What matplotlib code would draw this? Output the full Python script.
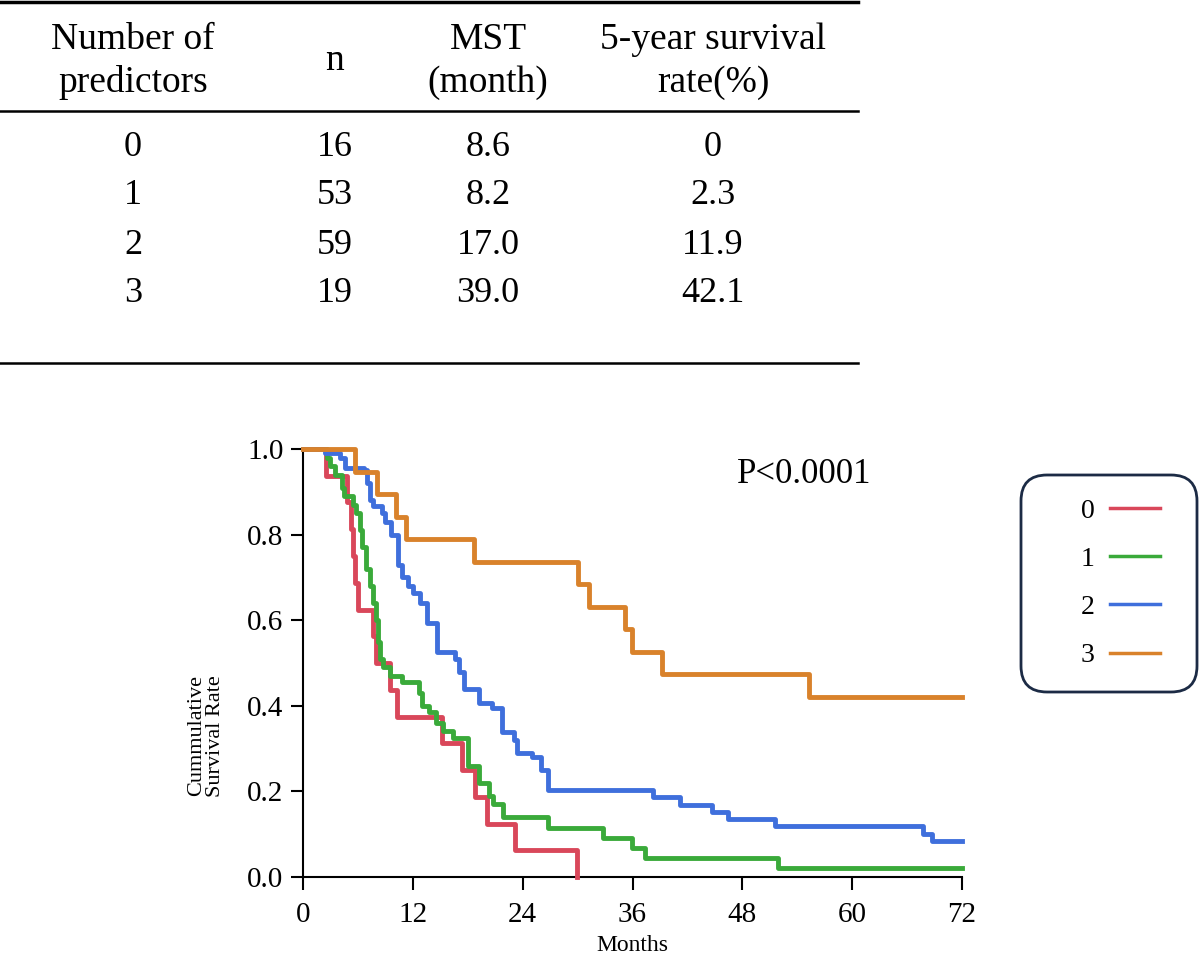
import matplotlib
matplotlib.use("Agg")
import matplotlib.pyplot as plt
from matplotlib.patches import FancyBboxPatch

plt.rcParams['font.family'] = ['Liberation Serif', 'DejaVu Serif']

# table data
tab_header = ["Number of\npredictors", "n", "MST\n(month)", "5-year survival\nrate(%)"]
tab_groups = ["0", "1", "2", "3"]
tab_n = ["16", "53", "59", "19"]
tab_mst = ["8.6", "8.2", "17.0", "39.0"]
tab_5yr = ["0", "2.3", "11.9", "42.1"]

# Kaplan-Meier curves (months, survival)
t0 = [0, 2.5, 4.8, 5.2, 5.5, 5.7, 6.0, 7.7, 8.0, 9.5, 10.3, 15.2, 17.4, 18.8, 20.1, 23.2, 29.9]
s0 = [1.0, 0.9375, 0.875, 0.8125, 0.75, 0.6875, 0.625, 0.5625, 0.5, 0.4375, 0.375, 0.3125, 0.25, 0.1875, 0.125, 0.0625, 0.0]

t1 = [0, 2.6, 3.0, 3.5, 4.3, 4.5, 5.5, 5.8, 6.2, 6.5, 6.9, 7.3, 7.6, 8.0, 8.2, 8.4, 8.7, 9.5,
      10.8, 12.7, 13.0, 13.8, 14.5, 15.3, 16.4, 18.0, 19.2, 20.3, 20.8, 21.8, 26.8, 32.8, 35.9,
      37.4, 51.9, 72]
s1 = [1.0, 0.98, 0.96, 0.94, 0.91, 0.89, 0.87, 0.85, 0.81, 0.77, 0.72, 0.68, 0.64, 0.60, 0.55,
      0.51, 0.49, 0.47, 0.455, 0.43, 0.40, 0.385, 0.36, 0.34, 0.325, 0.26, 0.22, 0.19, 0.17, 0.14,
      0.114, 0.091, 0.068, 0.044, 0.021, 0.021]

t2 = [0, 2.4, 4.0, 4.6, 6.7, 7.0, 7.3, 7.6, 8.6, 9.0, 9.6, 10.4, 10.8, 11.5, 12.0, 12.8, 13.5,
      14.6, 16.6, 17.0, 17.6, 19.2, 20.6, 21.7, 23.1, 23.4, 25.0, 26.0, 26.8, 38.2, 41.2, 44.7,
      46.4, 51.6, 67.7, 68.7, 72]
s2 = [1.0, 0.99, 0.98, 0.956, 0.95, 0.92, 0.88, 0.866, 0.85, 0.83, 0.80, 0.73, 0.70, 0.68, 0.664,
      0.64, 0.593, 0.525, 0.51, 0.48, 0.44, 0.407, 0.395, 0.339, 0.32, 0.29, 0.28, 0.25, 0.203,
      0.186, 0.169, 0.152, 0.136, 0.119, 0.10, 0.085, 0.085]

t3 = [0, 5.7, 8.1, 10.2, 11.3, 18.7, 30.0, 31.2, 35.2, 35.9, 39.2, 55.3, 72]
s3 = [1.0, 0.947, 0.895, 0.842, 0.789, 0.737, 0.684, 0.632, 0.579, 0.526, 0.474, 0.421, 0.421]

curve_labels = ["0", "1", "2", "3"]
curve_colors = ['#d9475a', '#3aaa3a', '#3f6fdc', '#d9822b']

fig = plt.figure(figsize=(12, 9.6), dpi=100)

# overlay in pixel units for the table and the legend box
ov = fig.add_axes([0, 0, 1, 1])
ov.set_xlim(0, 1200)
ov.set_ylim(960, 0)
ov.axis('off')

# table rules
ov.plot([0, 858], [1.5, 1.5], color='black', lw=2.5)
ov.plot([0, 858], [111, 111], color='black', lw=1.8)
ov.plot([0, 858], [363, 363], color='black', lw=1.8)

col_x = [133, 335, 488, 713]
for x, h in zip(col_x, tab_header):
    ov.text(x, 61, h, ha='center', va='center', fontsize=27, linespacing=1.3)

row_y = [148, 196, 245, 293]
for i, y in enumerate(row_y):
    vals = [tab_groups[i], tab_n[i], tab_mst[i], tab_5yr[i]]
    for x, v in zip(col_x, vals):
        ov.text(x, y, v, ha='center', va='center', fontsize=26)

# legend box
box = FancyBboxPatch((1021, 475), 176, 217, boxstyle="round,pad=0,rounding_size=26",
                     facecolor='white', edgecolor='#1c2b45', linewidth=2)
ov.add_patch(box)
leg_y = [508, 556, 604, 653]
for lab, c, y in zip(curve_labels, curve_colors, leg_y):
    ov.text(1088, y + 3, lab, ha='center', va='center', fontsize=20)
    ov.plot([1110, 1160], [y, y], color=c, lw=2.5)

# survival plot
ax = fig.add_axes([303 / 1200, 83 / 960, 659 / 1200, 428 / 960])
for t, s, c in zip([t0, t1, t2, t3], [s0, s1, s2, s3], curve_colors):
    ax.step(t, s, where='post', color=c, lw=3.5, clip_on=False, zorder=3)

ax.set_xlim(0, 72)
ax.set_ylim(0, 1.0)
ax.set_xticks([0, 12, 24, 36, 48, 60, 72])
ax.set_yticks([0.0, 0.2, 0.4, 0.6, 0.8, 1.0])
ax.set_yticklabels(["0.0", "0.2", "0.4", "0.6", "0.8", "1.0"])
ax.spines['top'].set_visible(False)
ax.spines['right'].set_visible(False)
for sp in ['left', 'bottom']:
    ax.spines[sp].set_linewidth(1.5)
ax.tick_params(direction='out', length=9, width=1.5, labelsize=21)
ax.tick_params(axis='x', pad=9)
ax.tick_params(axis='y', pad=5)
ax.set_xlabel("Months", fontsize=17, labelpad=5)
ax.text(-0.147, 0.33, "Cummulative\nSurvival Rate", transform=ax.transAxes, rotation=90,
        ha='center', va='center', fontsize=16, linespacing=1.05)
ax.text(0.76, 0.94, "P<0.0001", transform=ax.transAxes, ha='center', va='center', fontsize=25)

fig.savefig("out.png", dpi=100)
